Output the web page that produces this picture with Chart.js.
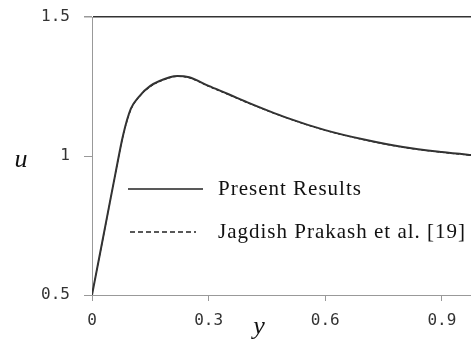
<!DOCTYPE html>
<html>
<head>
<meta charset="utf-8">
<script src="https://cdn.jsdelivr.net/npm/chart.js@4/dist/chart.umd.min.js"></script>
<style>
  html, body { margin: 0; padding: 0; background: #fff; }
  #wrap { width: 471px; height: 341px; }
</style>
</head>
<body>
<div id="wrap"><canvas id="velChart"></canvas></div>
<script>
const yPos      = [0, 0.02, 0.04, 0.06, 0.08, 0.1, 0.12, 0.15, 0.2, 0.22, 0.25, 0.3, 0.35, 0.4, 0.5, 0.6, 0.7, 0.8, 0.9, 1.0];
const uPresent  = [0.5, 0.645, 0.79, 0.935, 1.075, 1.17, 1.212, 1.252, 1.283, 1.288, 1.283, 1.252, 1.223, 1.193, 1.138, 1.093, 1.059, 1.032, 1.014, 1.0];
const uPrakash  = [0.5, 0.643, 0.788, 0.933, 1.072, 1.166, 1.209, 1.249, 1.281, 1.286, 1.281, 1.250, 1.221, 1.191, 1.137, 1.092, 1.058, 1.031, 1.013, 0.999];
const xTicks    = [0, 0.3, 0.6, 0.9];
const yTicks    = [0.5, 1, 1.5];
const seriesNames = ['Present Results', 'Jagdish Prakash et al. [19]'];

const toPts = vals => yPos.map((x, i) => ({ x, y: vals[i] }));

const tickFont = { family: 'DejaVu Sans Mono', size: 16 };

// legend + axis symbols drawn on the canvas
const extras = {
  id: 'extras',
  afterDraw(chart) {
    const { ctx } = chart;
    ctx.save();
    // legend
    const rows = [
      { y: 189, x0: 128, x1: 203, dash: [] },
      { y: 232, x0: 130, x1: 196, dash: [5, 3] }
    ];
    ctx.font = '21px "Liberation Serif"';
    ctx.letterSpacing = '1px';
    ctx.textBaseline = 'middle';
    rows.forEach((r, i) => {
      ctx.beginPath();
      ctx.setLineDash(r.dash);
      ctx.lineWidth = 1.3;
      ctx.strokeStyle = '#222';
      ctx.moveTo(r.x0, r.y);
      ctx.lineTo(r.x1, r.y);
      ctx.stroke();
      ctx.setLineDash([]);
      ctx.fillStyle = '#111';
      ctx.fillText(seriesNames[i], 218, r.y);
    });
    // axis symbols
    ctx.letterSpacing = '0px';
    ctx.font = 'italic 26px "Liberation Serif"';
    ctx.textAlign = 'center';
    ctx.textBaseline = 'alphabetic';
    ctx.fillText('u', 21, 167);
    ctx.fillText('y', 259, 334);
    ctx.restore();
  }
};

new Chart(document.getElementById('velChart'), {
  type: 'line',
  data: {
    datasets: [
      { data: toPts(uPresent), borderColor: '#333', borderWidth: 2, pointRadius: 0, cubicInterpolationMode: 'monotone', fill: false },
      { data: toPts(uPrakash), borderColor: '#000', borderWidth: 1, borderDash: [3, 2], pointRadius: 0, cubicInterpolationMode: 'monotone', fill: false }
    ]
  },
  options: {
    animation: false,
    responsive: true,
    maintainAspectRatio: false,
    layout: { padding: { top: 17, right: 0, left: 0, bottom: 0 } },
    plugins: { legend: { display: false }, tooltip: { enabled: false } },
    scales: {
      x: {
        type: 'linear', min: 0, max: 0.975,
        afterBuildTicks: s => { s.ticks = xTicks.map(v => ({ value: v })); },
        afterFit: s => { s.height = 46; s.paddingLeft = 0; s.paddingRight = 0; },
        border: { color: '#999', width: 1 },
        grid: { drawOnChartArea: false, tickLength: 6, tickColor: '#999' },
        ticks: { font: tickFont, color: '#333', padding: 10, maxRotation: 0, callback: v => String(v) }
      },
      y: {
        type: 'linear', min: 0.5, max: 1.5,
        afterBuildTicks: s => { s.ticks = yTicks.map(v => ({ value: v })); },
        afterFit: s => { s.width = 92; s.paddingTop = 0; s.paddingBottom = 0; },
        border: { color: '#999', width: 1 },
        grid: {
          tickLength: 8, tickColor: '#999',
          color: c => (c.tick && c.tick.value === 1.5) ? '#333' : 'rgba(0,0,0,0)',
          lineWidth: c => (c.tick && c.tick.value === 1.5) ? 1.5 : 1
        },
        ticks: { font: tickFont, color: '#333', padding: 14, callback: v => String(v) }
      }
    }
  },
  plugins: [extras]
});
</script>
</body>
</html>
